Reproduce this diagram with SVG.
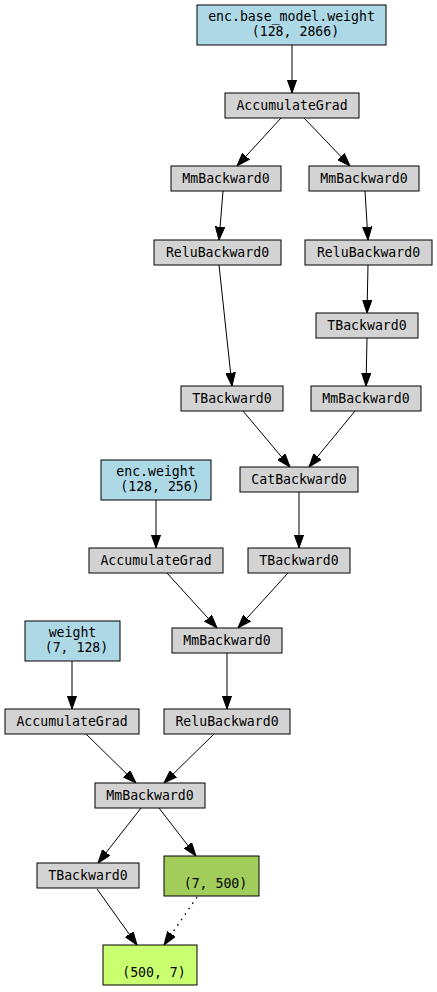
<svg xmlns="http://www.w3.org/2000/svg" width="437" height="992" viewBox="0 0 437 992">
<style>
rect{stroke:#000;stroke-width:1}
.op{fill:#d3d3d3}
.par{fill:#add8e6}
.out{fill:#a2cd5a}
.res{fill:#caff70}
text{font-family:"DejaVu Sans Mono","Liberation Mono",monospace;font-size:13.2px;text-anchor:middle;fill:#000}
.e line{stroke:#000;stroke-width:1;marker-end:url(#ah)}
.e line.dot{stroke-width:1.3;stroke-dasharray:1.6,5}
</style>
<defs>
<marker id="ah" markerUnits="userSpaceOnUse" markerWidth="14" markerHeight="10" viewBox="0 -5 14 10" refX="13.3" refY="0" orient="auto">
<path d="M0,-4.7 L13.3,0 L0,4.7 z" fill="#000" stroke="#000" stroke-width="1"/>
</marker>
</defs>
<g id="edges" class="e">
<line x1="292" y1="45" x2="292" y2="93"/>
<line x1="281" y1="118" x2="237" y2="166"/>
<line x1="304" y1="118" x2="350" y2="166"/>
<line x1="223" y1="191" x2="219" y2="240"/>
<line x1="365" y1="191" x2="368" y2="240"/>
<line x1="219" y1="265" x2="232" y2="386"/>
<line x1="368" y1="265" x2="367" y2="313"/>
<line x1="367" y1="338" x2="366" y2="386"/>
<line x1="243" y1="411" x2="290" y2="467"/>
<line x1="355" y1="411" x2="309" y2="467"/>
<line x1="156" y1="500" x2="156" y2="548"/>
<line x1="299" y1="492" x2="299" y2="548"/>
<line x1="167" y1="573" x2="217" y2="628"/>
<line x1="288" y1="573" x2="238" y2="628"/>
<line x1="227" y1="653" x2="227" y2="709"/>
<line x1="72" y1="661" x2="72" y2="709"/>
<line x1="86" y1="734" x2="136" y2="783"/>
<line x1="214" y1="734" x2="164" y2="783"/>
<line x1="141" y1="808" x2="98" y2="863"/>
<line x1="159" y1="808" x2="196" y2="856"/>
<line x1="97" y1="889" x2="137" y2="945"/>
<line class="dot" x1="197" y1="897" x2="164" y2="945"/>
</g>
<g id="n1"><rect class="par" x="197" y="5" width="189" height="40"/><text x="291.5" y="21">enc.base_model.weight</text><text x="291.5" y="36" xml:space="preserve"> (128, 2866)</text></g>
<g id="n2"><rect class="op" x="225" y="93" width="134" height="25"/><text x="292" y="110">AccumulateGrad</text></g>
<g id="n3"><rect class="op" x="171" y="166" width="110" height="25"/><text x="226" y="183">MmBackward0</text></g>
<g id="n4"><rect class="op" x="309" y="166" width="110" height="25"/><text x="364" y="183">MmBackward0</text></g>
<g id="n5"><rect class="op" x="154" y="240" width="127" height="25"/><text x="217.5" y="257">ReluBackward0</text></g>
<g id="n6"><rect class="op" x="305" y="240" width="127" height="25"/><text x="368.5" y="257">ReluBackward0</text></g>
<g id="n7"><rect class="op" x="316" y="313" width="102" height="25"/><text x="367" y="330">TBackward0</text></g>
<g id="n8"><rect class="op" x="181" y="386" width="102" height="25"/><text x="232" y="403">TBackward0</text></g>
<g id="n9"><rect class="op" x="311" y="386" width="110" height="25"/><text x="366" y="403">MmBackward0</text></g>
<g id="n10"><rect class="op" x="240" y="467" width="118" height="25"/><text x="299" y="484">CatBackward0</text></g>
<g id="n11"><rect class="par" x="101" y="460" width="110" height="40"/><text x="156" y="476">enc.weight</text><text x="156" y="491" xml:space="preserve"> (128, 256)</text></g>
<g id="n12"><rect class="op" x="89" y="548" width="134" height="25"/><text x="156" y="565">AccumulateGrad</text></g>
<g id="n13"><rect class="op" x="248" y="548" width="102" height="25"/><text x="299" y="565">TBackward0</text></g>
<g id="n14"><rect class="op" x="172" y="628" width="110" height="25"/><text x="227" y="645">MmBackward0</text></g>
<g id="n15"><rect class="par" x="25" y="621" width="95" height="40"/><text x="72.5" y="637">weight</text><text x="72.5" y="652" xml:space="preserve"> (7, 128)</text></g>
<g id="n16"><rect class="op" x="5" y="709" width="134" height="25"/><text x="72" y="726">AccumulateGrad</text></g>
<g id="n17"><rect class="op" x="164" y="709" width="126" height="25"/><text x="227" y="726">ReluBackward0</text></g>
<g id="n18"><rect class="op" x="95" y="783" width="110" height="25"/><text x="150" y="800">MmBackward0</text></g>
<g id="n19"><rect class="op" x="37" y="863" width="102" height="25"/><text x="88" y="880">TBackward0</text></g>
<g id="n20"><rect class="out" x="164" y="856" width="95" height="40"/><text x="211.5" y="888" xml:space="preserve"> (7, 500)</text></g>
<g id="n21"><rect class="res" x="103" y="945" width="94" height="40"/><text x="150" y="977" xml:space="preserve"> (500, 7)</text></g>
</svg>
